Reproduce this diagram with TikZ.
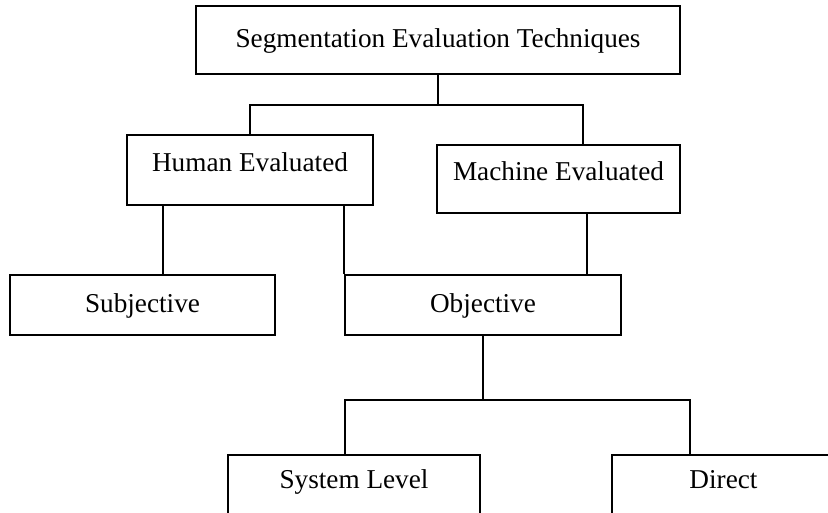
\documentclass[tikz,border=0pt]{standalone}
\usepackage{fontspec}
\setmainfont{Liberation Serif}
\usetikzlibrary{calc}

\tikzset{
  box/.style={draw, rectangle, line width=1pt, inner sep=0pt,
    font=\fontsize{15.5}{18}\selectfont, text height=11pt, text depth=3pt},
  raised/.style={box, text depth=9pt},
  link/.style={line width=1pt}
}

\begin{document}
\begin{tikzpicture}[x=0.02cm, y=-0.02cm]
  \useasboundingbox (0,0) rectangle (828,512);
  \clip (0,0) rectangle (828,512);
  % boxes
  \node[box, minimum width=9.68cm, minimum height=1.36cm] (seg) at (438,40) {Segmentation Evaluation Techniques};
  \node[raised, minimum width=4.92cm, minimum height=1.4cm] (human) at (250,170) {Human Evaluated};
  \node[raised, minimum width=4.86cm, minimum height=1.36cm] (machine) at (558.5,179) {Machine Evaluated};
  \node[box, minimum width=5.3cm, minimum height=1.2cm] (subj) at (142.5,305) {Subjective};
  \node[box, minimum width=5.52cm, minimum height=1.2cm] (obj) at (483,305) {Objective};
  \node[raised, minimum width=5.04cm, minimum height=1.28cm] (sys) at (354,487) {System Level};
  \node[raised, minimum width=4.46cm, minimum height=1.28cm] (direct) at (723.5,487) {Direct};
  % connectors
  \coordinate (bus1) at (438,105);
  \coordinate (mtop) at ([xshift=0.49cm]machine.north);
  \draw[link] (seg.south) -- (bus1);
  \draw[link] (human.north) |- (bus1) -| (mtop);
  \draw[link] ([xshift=-1.74cm]human.south) coordinate (hl) -- (hl |- subj.north);
  \draw[link] (obj.north west) -- (obj.north west |- human.south);
  \draw[link] ([xshift=0.57cm]machine.south) coordinate (ml) -- (ml |- obj.north);
  \coordinate (bus2) at (obj.south |- 0,400);
  \draw[link] (obj.south) -- (bus2);
  \draw[link] ([xshift=-0.18cm]sys.north) |- (bus2) -| ([xshift=-0.67cm]direct.north);
\end{tikzpicture}
\end{document}
